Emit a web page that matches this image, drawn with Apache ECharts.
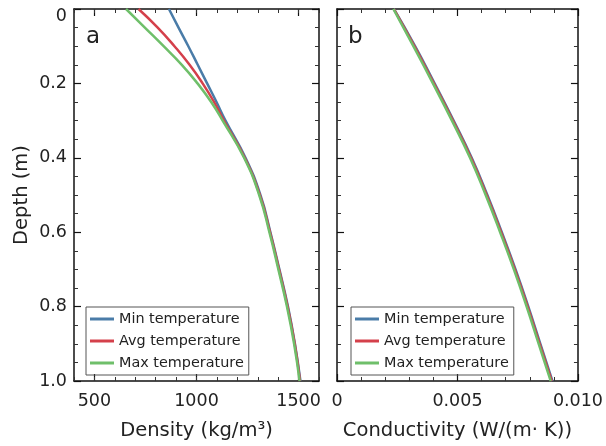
<!DOCTYPE html>
<html>
<head>
<meta charset="utf-8">
<script src="https://cdn.jsdelivr.net/npm/echarts@6/dist/echarts.min.js"></script>
<style>
html, body { margin: 0; padding: 0; background: #fff; }
#chart { width: 606px; height: 446px; }
</style>
</head>
<body>
<div id="chart"></div>
<script>
// panel a: density vs depth
const depthA = [0, 0.05, 0.1, 0.15, 0.2, 0.25, 0.3, 0.4, 0.5, 0.6, 0.7, 0.8, 0.9, 1.0];
const densityMin = [865, 912, 960, 1006, 1052, 1098, 1142, 1240, 1313, 1362, 1406, 1448, 1482, 1509];
const densityAvg = [716, 810, 892, 966, 1030, 1086, 1134, 1236, 1310, 1360, 1404, 1446, 1481, 1507];
const densityMax = [655, 747, 839, 928, 1005, 1072, 1128, 1233, 1307, 1357, 1401, 1443, 1478, 1505];
const densityTicks = [500, 1000, 1500];

// panel b: conductivity vs depth
const depthB = [0, 0.1, 0.2, 0.3, 0.4, 0.5, 0.6, 0.7, 0.8, 0.9, 1.0];
const condMin = [0.00236, 0.00324, 0.00405, 0.00484, 0.00559, 0.00624, 0.00684, 0.00741, 0.00794, 0.00844, 0.00894];
const condAvg = [0.00236, 0.00321, 0.00402, 0.00481, 0.00556, 0.00621, 0.00681, 0.00738, 0.00791, 0.00841, 0.00891];
const condMax = [0.00234, 0.00317, 0.00398, 0.00477, 0.00552, 0.00617, 0.00677, 0.00734, 0.00787, 0.00837, 0.00887];

const seriesNames = ['Min temperature', 'Avg temperature', 'Max temperature'];
const colors = ['#4a7ca8', '#d4404b', '#6fbf6a'];

const FONT = 'DejaVu Sans';
const axisLine = { show: true, onZero: false, lineStyle: { color: '#111', width: 1.5 } };
const noLine = { show: false, onZero: false };

function pairs(xs, ys) {
  return xs.map((x, i) => [x, ys[i]]);
}

function lineSeries(name, idx, data, panel) {
  return {
    name: name,
    type: 'line',
    xAxisIndex: panel === 0 ? 0 : 4,
    yAxisIndex: panel === 0 ? 0 : 2,
    data: data,
    smooth: 0.5,
    symbol: 'none',
    color: colors[idx],
    lineStyle: { width: 2.5, color: colors[idx] },
    z: 2 + idx,
  };
}

function densityAxis(position, major, showLabel) {
  return {
    type: 'value',
    gridIndex: 0,
    position: position,
    min: 400,
    max: 1600,
    interval: major ? undefined : 100,
    splitLine: { show: false },
    axisLine: major ? axisLine : noLine,
    axisTick: major
      ? { inside: true, length: 7, customValues: densityTicks, lineStyle: { color: '#111', width: 1.2 } }
      : { inside: true, length: 4, lineStyle: { color: '#333', width: 1 } },
    axisLabel: showLabel
      ? {
          customValues: densityTicks, margin: 11, fontFamily: FONT, fontSize: 17.5, color: '#222',
          formatter: (v) => String(v),
        }
      : { show: false },
    name: showLabel ? 'Density (kg/m³)' : '',
    nameLocation: 'middle',
    nameGap: 40,
    nameTextStyle: { fontFamily: FONT, fontSize: 19.5, color: '#222' },
  };
}

function condAxis(position, showLabel) {
  return {
    type: 'value',
    gridIndex: 1,
    position: position,
    min: 0,
    max: 0.01,
    interval: 0.005,
    splitLine: { show: false },
    axisLine: axisLine,
    axisTick: { inside: true, length: 7, lineStyle: { color: '#111', width: 1.2 } },
    minorTick: { show: true, splitNumber: 5, length: 4, lineStyle: { color: '#333', width: 1 } },
    axisLabel: showLabel
      ? {
          margin: 11, fontFamily: FONT, fontSize: 17.5, color: '#222',
          formatter: (v) => (v === 0 ? '0' : v.toFixed(3)),
        }
      : { show: false },
    name: showLabel ? 'Conductivity (W/(m· K))' : '',
    nameLocation: 'middle',
    nameGap: 40,
    nameTextStyle: { fontFamily: FONT, fontSize: 19.5, color: '#222' },
  };
}

function depthAxis(gridIndex, position, showLabel) {
  return {
    type: 'value',
    gridIndex: gridIndex,
    position: position,
    inverse: true,
    min: 0,
    max: 1,
    interval: 0.2,
    splitLine: { show: false },
    axisLine: axisLine,
    axisTick: { inside: true, length: 7, lineStyle: { color: '#111', width: 1.2 } },
    minorTick: { show: true, splitNumber: 4, length: 4, lineStyle: { color: '#333', width: 1 } },
    axisLabel: showLabel
      ? {
          margin: 7, fontFamily: FONT, fontSize: 17.5, color: '#222',
          // the top "0" sits a little lower, inside the picture
          formatter: (v) => (v === 0 ? '{top|0}' : v.toFixed(1)),
          rich: { top: { fontFamily: FONT, fontSize: 17.5, color: '#222', padding: [14, 0, 0, 0] } },
        }
      : { show: false },
    name: showLabel ? 'Depth (m)' : '',
    nameLocation: 'middle',
    nameGap: 42,
    nameTextStyle: { fontFamily: FONT, fontSize: 19.5, color: '#222' },
  };
}

function legendAt(left) {
  return {
    left: left,
    top: 307,
    orient: 'vertical',
    data: seriesNames,
    icon: 'rect',
    itemWidth: 24,
    itemHeight: 3,
    itemGap: 4,
    padding: [3, 5, 3, 4],
    borderColor: '#555',
    borderWidth: 1,
    borderRadius: 0,
    selectedMode: false,
    textStyle: { fontFamily: FONT, fontSize: 14.4, color: '#222', lineHeight: 18 },
  };
}

const chart = echarts.init(document.getElementById('chart'), null, { renderer: 'canvas' });

chart.setOption({
  animation: false,
  backgroundColor: '#fff',
  title: [
    { text: 'a', left: 81, top: 21, textStyle: { fontFamily: FONT, fontSize: 23, fontWeight: 'normal', color: '#222' } },
    { text: 'b', left: 343, top: 21, textStyle: { fontFamily: FONT, fontSize: 23, fontWeight: 'normal', color: '#222' } },
  ],
  grid: [
    { left: 74, top: 9, width: 245, height: 377 },
    { left: 337, top: 9, width: 245, height: 377 },
  ],
  legend: [legendAt(86), legendAt(351)],
  xAxis: [
    densityAxis('bottom', true, true),
    densityAxis('bottom', false, false),
    densityAxis('top', true, false),
    densityAxis('top', false, false),
    condAxis('bottom', true),
    condAxis('top', false),
  ],
  yAxis: [
    depthAxis(0, 'left', true),
    depthAxis(0, 'right', false),
    depthAxis(1, 'left', false),
    depthAxis(1, 'right', false),
  ],
  series: [
    lineSeries(seriesNames[0], 0, pairs(densityMin, depthA), 0),
    lineSeries(seriesNames[1], 1, pairs(densityAvg, depthA), 0),
    lineSeries(seriesNames[2], 2, pairs(densityMax, depthA), 0),
    lineSeries(seriesNames[0], 0, pairs(condMin, depthB), 1),
    lineSeries(seriesNames[1], 1, pairs(condAvg, depthB), 1),
    lineSeries(seriesNames[2], 2, pairs(condMax, depthB), 1),
  ],
});
</script>
</body>
</html>
